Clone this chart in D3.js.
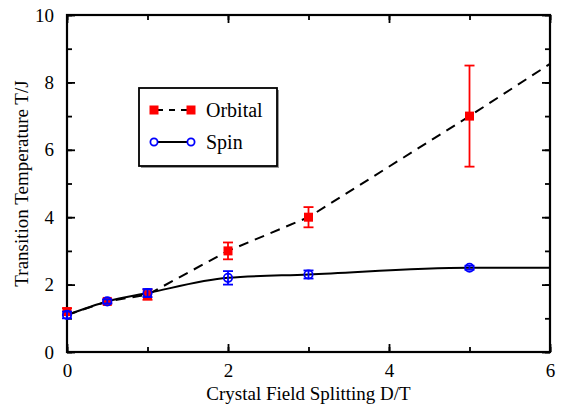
<!DOCTYPE html>
<html>
<head>
<meta charset="utf-8">
<script src="https://cdn.jsdelivr.net/npm/d3@7"></script>
<style>
body { margin: 0; background: #fff; }
</style>
</head>
<body>
<div id="chart"></div>
<script>
const xs = [0, 0.5, 1, 2, 3, 5]
const orbital = [1.2, 1.5, 1.7, 3.0, 4.0, 7.0]
const orbitalErr = [0.1, 0.06, 0.15, 0.25, 0.3, 1.5]
const spin = [1.1, 1.5, 1.75, 2.2, 2.3, 2.5]
const spinErr = [0.1, 0.06, 0.12, 0.2, 0.12, 0.06]
// fitted curves drawn through the points, extended to the edge
const orbitalFitX = [0, 0.5, 1, 2, 3, 5, 6]
const orbitalFitY = [1.1, 1.5, 1.7, 3.0, 4.0, 7.0, 8.55]
const spinFitX = [0, 0.5, 1, 2, 3, 5, 6]
const spinFitY = [1.1, 1.5, 1.75, 2.2, 2.3, 2.5, 2.5]
const xTicks = [0, 2, 4, 6]
const yTicks = [0, 2, 4, 6, 8, 10]

const FONT = '"Liberation Serif"'
const width = 564, height = 409
const margin = {top: 15, right: 14, bottom: 57, left: 67}
const svg = d3.select('#chart').append('svg')
	.attr('width', width)
	.attr('height', height)

const x = d3.scaleLinear().domain([0, 6]).range([margin.left, width - margin.right])
const y = d3.scaleLinear().domain([0, 10]).range([height - margin.bottom, margin.top])

const RED = '#ff0000'
const BLUE = '#0000ff'

// axes with inward ticks on all four sides
const minorX = d3.range(0, 6.01, 1)
const minorY = d3.range(0, 10.01, 1)
const addAxis = (axis, tx, ty) => {
	const g = svg.append('g').attr('transform', `translate(${tx},${ty})`).call(axis)
	g.attr('font-family', null).attr('font-size', null)
	g.select('.domain').remove()
	g.selectAll('.tick line').attr('stroke', '#000').attr('stroke-width', 1.8)
	g.selectAll('.tick text')
		.style('font-family', FONT).style('font-size', '19px').attr('fill', '#000')
	return g
}
const bottom = height - margin.bottom, right = width - margin.right
const fmt = d3.format('d')
addAxis(d3.axisBottom(x).tickValues(minorX).tickSize(-5).tickFormat(''), 0, bottom)
addAxis(d3.axisTop(x).tickValues(minorX).tickSize(-5).tickFormat(''), 0, margin.top)
addAxis(d3.axisLeft(y).tickValues(minorY).tickSize(-5).tickFormat(''), margin.left, 0)
addAxis(d3.axisRight(y).tickValues(minorY).tickSize(-5).tickFormat(''), right, 0)
addAxis(d3.axisBottom(x).tickValues(xTicks).tickSize(-8).tickPadding(12).tickFormat(fmt), 0, bottom)
addAxis(d3.axisTop(x).tickValues(xTicks).tickSize(-8).tickFormat(''), 0, margin.top)
addAxis(d3.axisLeft(y).tickValues(yTicks).tickSize(-8).tickPadding(13).tickFormat(fmt), margin.left, 0)
addAxis(d3.axisRight(y).tickValues(yTicks).tickSize(-8).tickFormat(''), right, 0)

svg.append('rect')
	.attr('x', margin.left).attr('y', margin.top)
	.attr('width', right - margin.left).attr('height', bottom - margin.top)
	.attr('fill', 'none').attr('stroke', '#000').attr('stroke-width', 2.2)

// fitted lines
svg.append('path')
	.datum(orbitalFitX.map((v, i) => [v, orbitalFitY[i]]))
	.attr('d', d3.line().x(d => x(d[0])).y(d => y(d[1])))
	.attr('fill', 'none').attr('stroke', '#000').attr('stroke-width', 2)
	.attr('stroke-dasharray', '10,7')
svg.append('path')
	.datum(spinFitX.map((v, i) => [v, spinFitY[i]]))
	.attr('d', d3.line().x(d => x(d[0])).y(d => y(d[1])).curve(d3.curveMonotoneX))
	.attr('fill', 'none').attr('stroke', '#000').attr('stroke-width', 2)

// error bars
const errorBars = (vals, errs, color) => {
	const g = svg.append('g').attr('stroke', color).attr('stroke-width', 1.8)
	xs.forEach((xv, i) => {
		const cx = x(xv), y0 = y(vals[i] - errs[i]), y1 = y(vals[i] + errs[i])
		g.append('line').attr('x1', cx).attr('x2', cx).attr('y1', y0).attr('y2', y1)
		g.append('line').attr('x1', cx - 5).attr('x2', cx + 5).attr('y1', y0).attr('y2', y0)
		g.append('line').attr('x1', cx - 5).attr('x2', cx + 5).attr('y1', y1).attr('y2', y1)
	})
}
errorBars(orbital, orbitalErr, RED)
svg.append('g').selectAll('rect')
	.data(xs.map((v, i) => [v, orbital[i]]))
	.join('rect')
	.attr('x', d => x(d[0]) - 4.5).attr('y', d => y(d[1]) - 4.5)
	.attr('width', 9).attr('height', 9)
	.attr('fill', RED)

errorBars(spin, spinErr, BLUE)
svg.append('g').selectAll('circle')
	.data(xs.map((v, i) => [v, spin[i]]))
	.join('circle')
	.attr('cx', d => x(d[0])).attr('cy', d => y(d[1]))
	.attr('r', 4.2)
	.attr('fill', 'none').attr('stroke', BLUE).attr('stroke-width', 1.8)

// legend
const lg = svg.append('g')
lg.append('rect').attr('x', 141).attr('y', 90).attr('width', 138).attr('height', 78)
	.attr('fill', '#999')
lg.append('rect').attr('x', 139).attr('y', 88).attr('width', 138).attr('height', 78)
	.attr('fill', '#fff').attr('stroke', '#000').attr('stroke-width', 1.8)
lg.append('line').attr('x1', 154).attr('x2', 191).attr('y1', 110).attr('y2', 110)
	.attr('stroke', '#000').attr('stroke-width', 2).attr('stroke-dasharray', '6,6')
	.attr('stroke-dashoffset', -3)
lg.selectAll('.lsq').data([154, 191]).join('rect')
	.attr('x', d => d - 4.5).attr('y', 105.5).attr('width', 9).attr('height', 9).attr('fill', RED)
lg.append('line').attr('x1', 154).attr('x2', 191).attr('y1', 142).attr('y2', 142)
	.attr('stroke', '#000').attr('stroke-width', 2)
lg.selectAll('.lci').data([154, 191]).join('circle')
	.attr('cx', d => d).attr('cy', 142).attr('r', 3.6)
	.attr('fill', '#fff').attr('stroke', BLUE).attr('stroke-width', 1.8)
lg.append('text').attr('x', 206).attr('y', 117)
	.style('font-family', FONT).style('font-size', '20px').text('Orbital')
lg.append('text').attr('x', 206).attr('y', 149)
	.style('font-family', FONT).style('font-size', '20px').text('Spin')

// axis titles
svg.append('text')
	.attr('x', (margin.left + right) / 2).attr('y', 400)
	.attr('text-anchor', 'middle')
	.style('font-family', FONT).style('font-size', '19px')
	.text('Crystal Field Splitting D/T')
svg.append('text')
	.attr('transform', `translate(28,${(margin.top + bottom) / 2}) rotate(-90)`)
	.attr('text-anchor', 'middle')
	.style('font-family', FONT).style('font-size', '19px')
	.text('Transition Temperature T/J')
</script>
</body>
</html>
